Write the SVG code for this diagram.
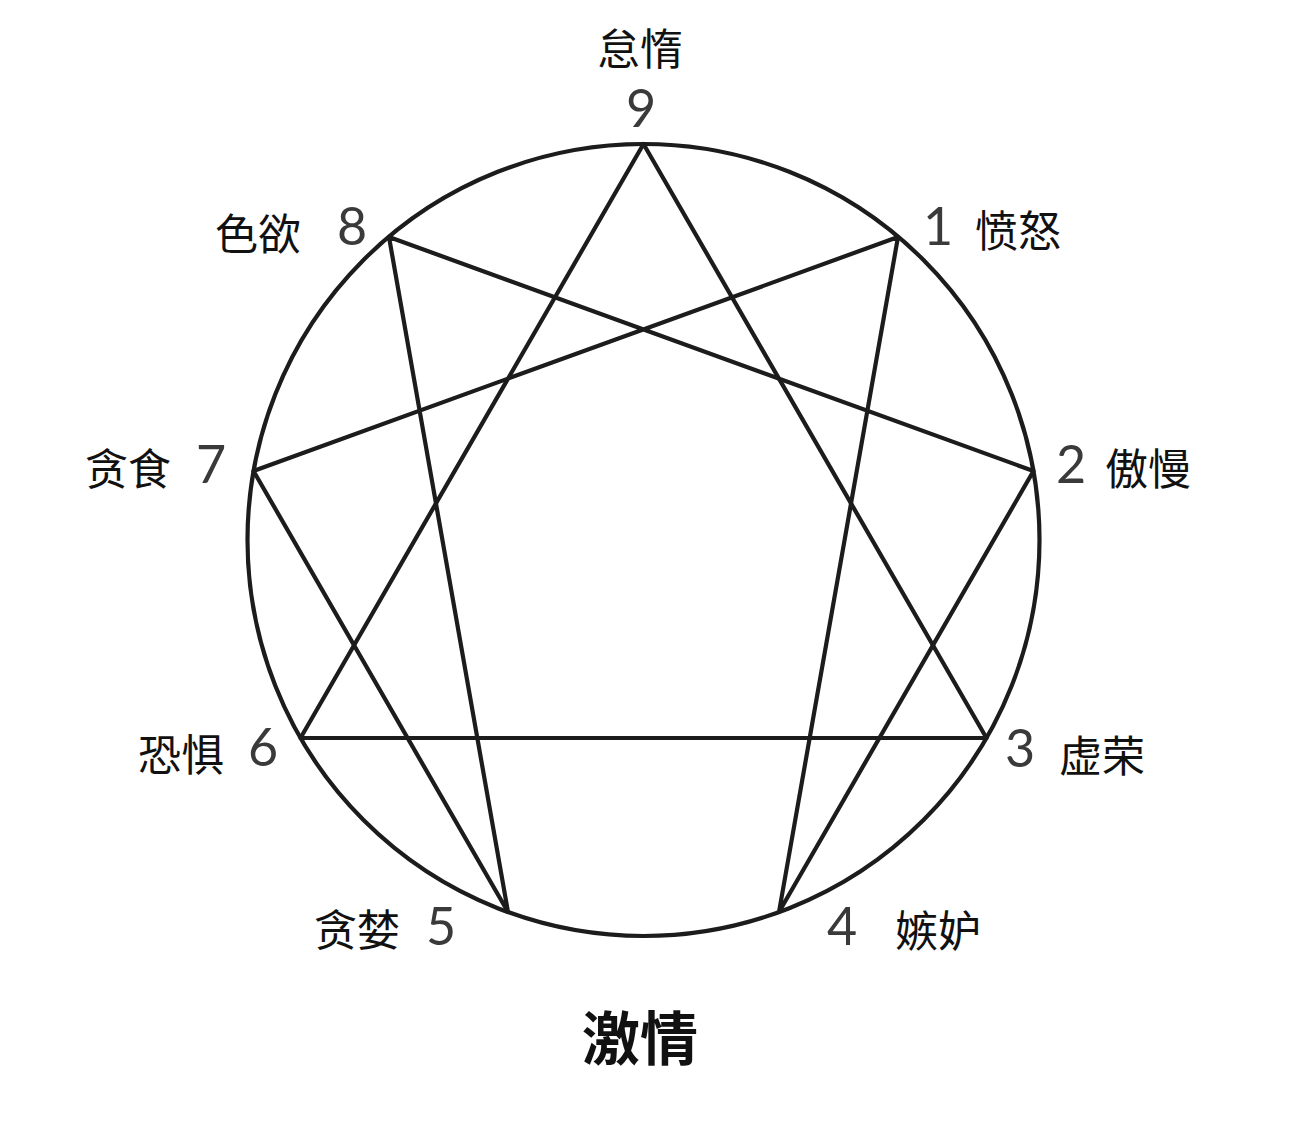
<svg xmlns="http://www.w3.org/2000/svg" width="1292" height="1132" viewBox="0 0 1292 1132">
<style>
.ln{stroke:#1c1c1c;stroke-width:4.2;fill:none;stroke-linecap:round;stroke-linejoin:round}
.cj{font-family:"Noto Sans CJK SC","Noto Sans",sans-serif;font-size:43px;fill:#111;text-anchor:middle;dominant-baseline:central}
.dg{font-family:Lato,"Noto Sans",sans-serif;font-weight:400;font-size:52px;fill:#3a3a3a;text-anchor:middle}
.tt{font-family:"Noto Sans CJK SC","Noto Sans",sans-serif;font-size:58px;font-weight:700;fill:#111;text-anchor:middle;dominant-baseline:central}
</style>
<rect width="1292" height="1132" fill="#fff"/>
<g id="connectors">
<circle class="ln" cx="643.5" cy="540" r="396"/>
<polygon class="ln" points="643.5,144 986.5,738 300.5,738"/>
<polygon class="ln" points="898,237 779,912 1033.5,471 389,237 508,912 253.5,471"/>
</g>
<g id="n9"><text class="cj" x="640" y="46">怠惰</text><text class="dg" x="641" y="127">9</text></g>
<g id="n1"><text class="dg" x="938" y="245">1</text><text class="cj" x="1018" y="228">愤怒</text></g>
<g id="n2"><text class="dg" x="1071" y="483">2</text><text class="cj" x="1148" y="466">傲慢</text></g>
<g id="n3"><text class="dg" x="1020" y="767">3</text><text class="cj" x="1102" y="753">虚荣</text></g>
<g id="n4"><text class="dg" x="842" y="945">4</text><text class="cj" x="938" y="928">嫉妒</text></g>
<g id="n5"><text class="cj" x="357" y="927">贪婪</text><text class="dg" x="441" y="945">5</text></g>
<g id="n6"><text class="cj" x="181" y="752">恐惧</text><text class="dg" x="263" y="766">6</text></g>
<g id="n7"><text class="cj" x="128" y="466">贪食</text><text class="dg" x="211" y="483">7</text></g>
<g id="n8"><text class="cj" x="258" y="231">色欲</text><text class="dg" x="352" y="245">8</text></g>
<g id="title"><text class="tt" x="640" y="1035">激情</text></g>
</svg>
